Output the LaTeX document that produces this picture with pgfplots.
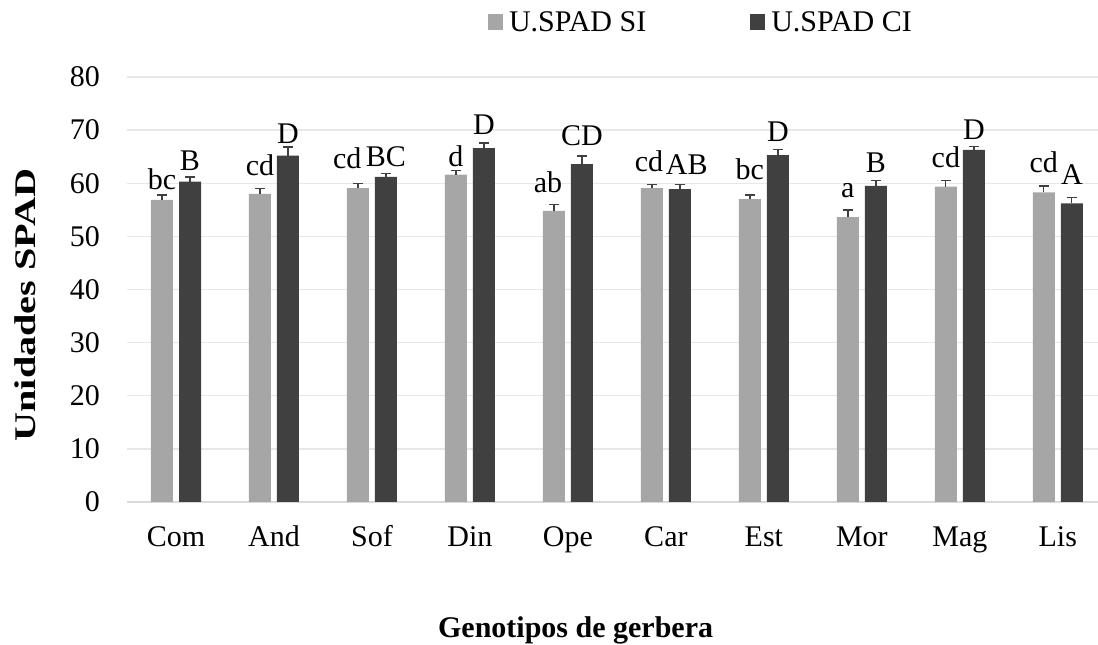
\documentclass[border=0pt]{standalone}
\usepackage{pgfplots}
\usepackage{pgfplotstable}
\pgfplotsset{compat=1.18}
\usepackage{fontspec}
\setmainfont{Liberation Serif}
\definecolor{cSI}{HTML}{A6A6A6}
\definecolor{cCI}{HTML}{404040}
\definecolor{gridc}{HTML}{E8E8E8}
\definecolor{axl}{HTML}{D9D9D9}
\newcommand\fsz{\fontsize{30bp}{36bp}\selectfont}

\pgfplotstableread{
x y e lab ly dx
0 56.85 0.95 bc 58.7 0
1 58.0 1.05 cd 61.4 0
2 59.1 0.8 cd 62.6 -0.11
3 61.6 0.8 d 63.1 0
4 54.8 1.2 ab 58.1 -0.06
5 59.1 0.7 cd 62.1 -0.03
6 57.0 0.8 bc 60.6 0
7 53.6 1.35 a 57.2 0
8 59.35 1.15 cd 62.8 0
9 58.3 1.2 cd 61.9 0
}\SI

\pgfplotstableread{
x y e lab ly dx
0 60.3 0.9 B 62.4 0
1 65.2 1.6 D 67.5 0
2 61.2 0.6 BC 63.1 0
3 66.6 1.0 D 69.1 0
4 63.6 1.5 CD 67.0 0
5 58.9 0.8 AB 61.6 0.07
6 65.3 1.1 D 67.8 0
7 59.5 1.0 B 62.0 0
8 66.3 0.6 D 68.1 0
9 56.2 1.1 A 59.7 0
}\CI

\begin{document}
\begin{tikzpicture}
\begin{axis}[
  scale only axis,
  width=971bp, height=425bp,
  xmin=-0.5, xmax=9.41, ymin=0, ymax=80,
  clip=false,
  xtick={0,...,9},
  xticklabels={Com,And,Sof,Din,Ope,Car,Est,Mor,Mag,Lis},
  ytick={0,10,...,80},
  major tick length=0pt,
  tick style={draw=none},
  ymajorgrids,
  grid style={draw=gridc, line width=1.4bp},
  axis x line*=bottom, axis y line*=left,
  x axis line style={draw=axl, line width=1.5bp, -},
  y axis line style={draw=none},
  /pgf/number format/assume math mode=true,
  yticklabel style={font=\fsz, anchor=east, inner sep=0pt, xshift=-27bp},
  xticklabel style={font=\fsz, anchor=base, inner sep=0pt, yshift=-45bp},
  xlabel={Genotipos de gerbera},
  ylabel={Unidades SPAD},
  xlabel style={font=\fsz\bfseries, at={(axis description cs:0.462,0)}, anchor=base, inner sep=0pt, yshift=-136bp},
  ylabel style={font=\fsz\bfseries, at={(axis description cs:-0.105,0.4635)}, anchor=center, inner sep=0pt, xscale=1.34},
  legend columns=2,
  legend image code/.code={\fill[#1] (0bp,-8bp) rectangle (15bp,8bp);},
  legend style={draw=none, fill=none, font=\fsz, inner sep=0pt, outer sep=0pt,
    at={(axis description cs:0.3718,1.1294)}, anchor=west,
    nodes={inner sep=0pt},
    /tikz/every odd column/.append style={column sep=6bp},
    /tikz/every even column/.append style={column sep=104bp}},
  every node near coord/.append style={font=\fsz, inner sep=0pt, text=black},
]
\addplot[ybar, bar width=0.2245, bar shift=0pt, fill=cSI, draw=none,
  error bars/.cd, y dir=plus, y explicit,
  error bar style={draw=cCI, line width=1.3bp},
  error mark options={draw=cCI, rotate=90, mark size=5bp, line width=1.3bp}]
  table[x expr=\thisrow{x}-0.143, y=y, y error=e]{\SI};
\addlegendentry{U.SPAD SI}
\addplot[ybar, bar width=0.2245, bar shift=0pt, fill=cCI, draw=none,
  error bars/.cd, y dir=plus, y explicit,
  error bar style={draw=cCI, line width=1.3bp},
  error mark options={draw=cCI, rotate=90, mark size=5bp, line width=1.3bp}]
  table[x expr=\thisrow{x}+0.143, y=y, y error=e]{\CI};
\addlegendentry{U.SPAD CI}
\addplot[draw=none, mark=none, forget plot, nodes near coords, point meta=explicit symbolic]
  table[x expr=\thisrow{x}-0.143+\thisrow{dx}, y=ly, meta=lab]{\SI};
\addplot[draw=none, mark=none, forget plot, nodes near coords, point meta=explicit symbolic]
  table[x expr=\thisrow{x}+0.143+\thisrow{dx}, y=ly, meta=lab]{\CI};
\coordinate (BL) at (rel axis cs:0,0);
\coordinate (TR) at (rel axis cs:1,1);
\end{axis}
\pgfresetboundingbox
\path ([xshift=-127bp,yshift=-143bp]BL) rectangle ([yshift=77bp]TR);
\end{tikzpicture}
\end{document}
